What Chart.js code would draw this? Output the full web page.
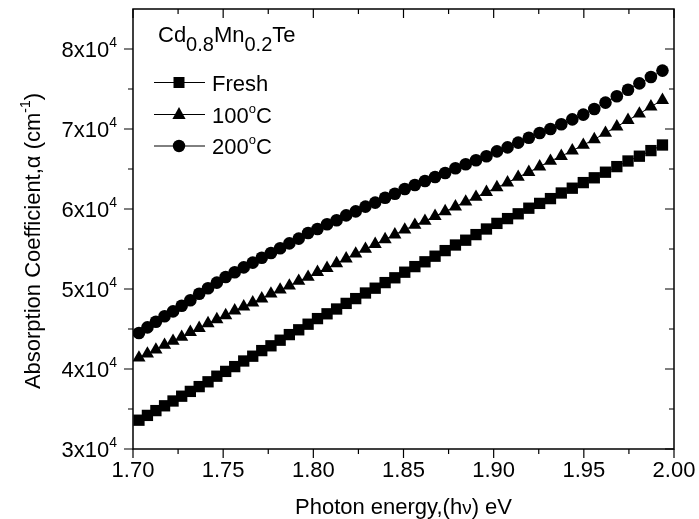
<!DOCTYPE html>
<html>
<head>
<meta charset="utf-8">
<script src="https://cdn.jsdelivr.net/npm/chart.js@4/dist/chart.umd.min.js"></script>
<style>
  body { margin: 0; background: #fff; }
  #wrap { width: 699px; height: 519px; }
</style>
</head>
<body>
<div id="wrap"><canvas id="chart" width="699" height="519"></canvas></div>
<script>
// photon energy (eV) of each measured point
const energy = [
  1.7033, 1.7080, 1.7127, 1.7175, 1.7222, 1.7270, 1.7318, 1.7367, 1.7416, 1.7465,
  1.7514, 1.7564, 1.7614, 1.7664, 1.7714, 1.7765, 1.7816, 1.7867, 1.7919, 1.7971,
  1.8023, 1.8076, 1.8129, 1.8182, 1.8235, 1.8289, 1.8343, 1.8398, 1.8452, 1.8507,
  1.8563, 1.8619, 1.8675, 1.8731, 1.8788, 1.8845, 1.8902, 1.8960, 1.9018, 1.9077,
  1.9136, 1.9195, 1.9255, 1.9315, 1.9375, 1.9436, 1.9497, 1.9558, 1.9620, 1.9683,
  1.9745, 1.9808, 1.9872, 1.9936
];

// absorption coefficient (cm^-1)
const alphaFresh = [
  33600, 34200, 34800, 35400, 36000, 36600, 37200, 37800, 38400, 39100,
  39700, 40300, 41000, 41600, 42300, 42900, 43600, 44300, 44900, 45600,
  46300, 46900, 47500, 48200, 48800, 49500, 50100, 50800, 51400, 52100,
  52800, 53400, 54100, 54800, 55500, 56100, 56800, 57500, 58200, 58800,
  59400, 60100, 60700, 61300, 62000, 62600, 63300, 63900, 64600, 65300,
  66000, 66600, 67300, 68000
];
const alpha100 = [
  41400, 41900, 42400, 43000, 43500, 44000, 44600, 45100, 45700, 46200,
  46700, 47300, 47800, 48300, 48800, 49400, 49900, 50400, 51000, 51500,
  52100, 52600, 53200, 53800, 54400, 55000, 55600, 56200, 56800, 57400,
  58000, 58500, 59100, 59700, 60300, 60900, 61500, 62100, 62700, 63300,
  64000, 64600, 65300, 66000, 66600, 67300, 68000, 68700, 69500, 70300,
  71100, 71900, 72800, 73600
];
const alpha200 = [
  44500, 45200, 45900, 46600, 47200, 47900, 48600, 49400, 50100, 50800,
  51500, 52100, 52700, 53300, 53900, 54500, 55100, 55700, 56300, 57000,
  57500, 58100, 58600, 59200, 59700, 60300, 60800, 61400, 61900, 62500,
  63000, 63500, 64000, 64500, 65100, 65600, 66100, 66600, 67200, 67700,
  68300, 68900, 69500, 70000, 70600, 71200, 71800, 72500, 73300, 74100,
  74900, 75700, 76500, 77300
];

const seriesNames = ["Fresh", "100", "200"];
const xTicks = [1.70, 1.75, 1.80, 1.85, 1.90, 1.95, 2.00];
const xMinor = [1.725, 1.775, 1.825, 1.875, 1.925, 1.975];
const yTicks = [30000, 40000, 50000, 60000, 70000, 80000];
const yMinor = [35000, 45000, 55000, 65000, 75000];

const FONT = "Liberation Sans, Arial, Helvetica, sans-serif";
const BASE = 22;

function font(size) {
  return size + "px " + FONT;
}

// draws a run of text pieces, each with its own size and baseline shift
function drawRich(ctx, parts, x, y, align) {
  let total = 0;
  parts.forEach((p) => {
    ctx.font = font(p.size || BASE);
    p.w = ctx.measureText(p.t).width;
    total += p.w;
  });
  let cx = x;
  if (align === "right") cx = x - total;
  else if (align === "center") cx = x - total / 2;
  ctx.textAlign = "left";
  ctx.textBaseline = "alphabetic";
  parts.forEach((p) => {
    ctx.font = font(p.size || BASE);
    ctx.fillText(p.t, cx, y + (p.dy || 0));
    cx += p.w;
  });
}

function drawMarker(ctx, style, x, y) {
  ctx.beginPath();
  if (style === "rect") {
    ctx.rect(x - 5.5, y - 5.5, 11, 11);
  } else if (style === "triangle") {
    ctx.moveTo(x, y - 7.5);
    ctx.lineTo(x + 6.6, y + 4.5);
    ctx.lineTo(x - 6.6, y + 4.5);
    ctx.closePath();
  } else {
    ctx.arc(x, y, 6.2, 0, Math.PI * 2);
  }
  ctx.fill();
}

const framePlugin = {
  id: "frame",
  afterDraw(chart) {
    const ctx = chart.ctx;
    const xs = chart.scales.x;
    const ys = chart.scales.y;
    const a = chart.chartArea;
    ctx.save();
    ctx.strokeStyle = "#000";
    ctx.fillStyle = "#000";
    ctx.lineWidth = 1.5;
    ctx.strokeRect(a.left, a.top, a.right - a.left, a.bottom - a.top);

    // ticks: outward on bottom/left, inward on top/right
    ctx.lineWidth = 1.2;
    ctx.beginPath();
    const xt = (v, len) => {
      const px = xs.getPixelForValue(v);
      ctx.moveTo(px, a.bottom);
      ctx.lineTo(px, a.bottom + len);
      ctx.moveTo(px, a.top);
      ctx.lineTo(px, a.top + len);
    };
    const yt = (v, len) => {
      const py = ys.getPixelForValue(v);
      ctx.moveTo(a.left, py);
      ctx.lineTo(a.left - len, py);
      ctx.moveTo(a.right, py);
      ctx.lineTo(a.right - len, py);
    };
    xTicks.forEach((v) => xt(v, 9));
    xMinor.forEach((v) => xt(v, 5));
    yTicks.forEach((v) => yt(v, 9));
    yMinor.forEach((v) => yt(v, 5));
    ctx.stroke();

    // tick labels
    xTicks.forEach((v) => {
      drawRich(ctx, [{ t: v.toFixed(2) }], xs.getPixelForValue(v), a.bottom + 28, "center");
    });
    yTicks.forEach((v) => {
      const py = ys.getPixelForValue(v);
      drawRich(ctx, [
        { t: (v / 10000) + "x10" },
        { t: "4", size: 14, dy: -10 }
      ], a.left - 16, py + 8, "right");
    });

    // axis titles
    drawRich(ctx, [
      { t: "Photon energy,(h" },
      { t: "\u03bd", size: 19 },
      { t: ") eV" }
    ], (a.left + a.right) / 2, 514, "center");
    ctx.save();
    ctx.translate(32, (a.top + a.bottom) / 2 + 12);
    ctx.rotate(-Math.PI / 2);
    drawRich(ctx, [
      { t: "Absorption Coefficient,\u03b1 (cm" },
      { t: "-1", size: 14, dy: -10 },
      { t: ")" }
    ], 0, 8, "center");
    ctx.restore();

    // legend
    drawRich(ctx, [
      { t: "Cd" }, { t: "0.8", size: 20, dy: 9 },
      { t: "Mn" }, { t: "0.2", size: 20, dy: 9 },
      { t: "Te" }
    ], 158, 42, "left");
    const rows = [82.5, 114.5, 146];
    const styles = ["rect", "triangle", "circle"];
    rows.forEach((ry, i) => {
      ctx.lineWidth = 1;
      ctx.beginPath();
      ctx.moveTo(154, ry);
      ctx.lineTo(205, ry);
      ctx.stroke();
      drawMarker(ctx, styles[i], 179, ry);
      if (i === 0) {
        drawRich(ctx, [{ t: seriesNames[i] }], 212, ry + 8, "left");
      } else {
        drawRich(ctx, [
          { t: seriesNames[i] },
          { t: "o", size: 13, dy: -10 },
          { t: "C" }
        ], 212, ry + 8, "left");
      }
    });
    ctx.restore();
  }
};

function points(ys) {
  return energy.map((e, i) => ({ x: e, y: ys[i] }));
}

function series(label, ys, style, radius) {
  return {
    label: label,
    data: points(ys),
    showLine: true,
    borderColor: "#000",
    backgroundColor: "#000",
    borderWidth: 1,
    pointStyle: style,
    pointRadius: radius,
    pointBorderWidth: 0,
    pointBackgroundColor: "#000"
  };
}

new Chart(document.getElementById("chart"), {
  type: "scatter",
  data: {
    datasets: [
      series("Fresh", alphaFresh, "rect", 8),
      series("100", alpha100, "triangle", 7.6),
      series("200", alpha200, "circle", 6.3)
    ]
  },
  options: {
    responsive: false,
    animation: false,
    devicePixelRatio: 1,
    layout: { padding: { left: 133, top: 9, right: 25, bottom: 70 } },
    plugins: { legend: { display: false }, tooltip: { enabled: false } },
    scales: {
      x: { type: "linear", min: 1.7, max: 2.0, display: false },
      y: { type: "linear", min: 30000, max: 85000, display: false }
    }
  },
  plugins: [framePlugin]
});
</script>
</body>
</html>
